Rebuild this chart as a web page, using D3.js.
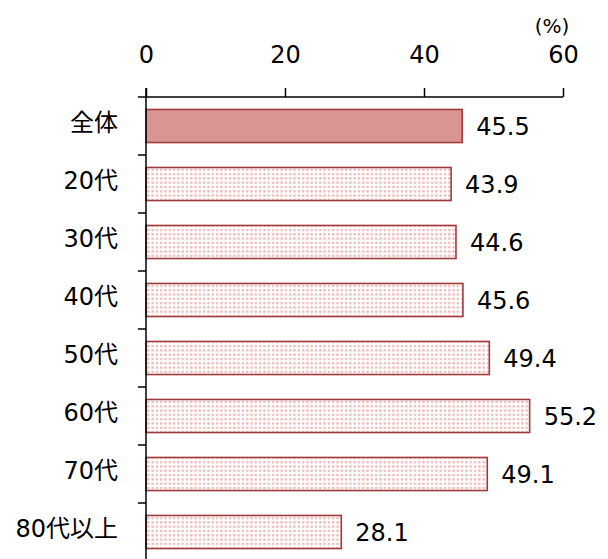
<!DOCTYPE html>
<html>
<head>
<meta charset="utf-8">
<script src="https://cdn.jsdelivr.net/npm/d3@7"></script>
<style>
  html, body { margin: 0; padding: 0; background: #fff; }
  svg text { font-family: "DejaVu Sans", "Noto Sans CJK JP", sans-serif; fill: #000; }
</style>
</head>
<body>
<svg id="chart" width="608" height="559"></svg>
<script>
// Share by age group (%)
const categories = ["全体", "20代", "30代", "40代", "50代", "60代", "70代", "80代以上"];
const values = [45.5, 43.9, 44.6, 45.6, 49.4, 55.2, 49.1, 28.1];
const xTicks = [0, 20, 40, 60];
const unitLabel = "(%)";

const svg = d3.select("#chart");
const plotLeft = 146, plotRight = 563, plotTop = 97, plotBottom = 561;

const x = d3.scaleLinear().domain([0, 60]).range([plotLeft, plotRight]);
const y = d3.scaleBand().domain(categories).range([plotTop, plotBottom])
  .paddingInner(0.43).paddingOuter(0.215);

// dotted fill for the age-group bars
const defs = svg.append("defs");
const pat = defs.append("pattern")
  .attr("id", "dots").attr("patternUnits", "userSpaceOnUse")
  .attr("width", 4.3).attr("height", 4.3);
pat.append("rect").attr("width", 4.3).attr("height", 4.3).attr("fill", "#fff");
pat.append("rect").attr("x", 1).attr("y", 1).attr("width", 2.2).attr("height", 2.2)
  .attr("fill", "#eeb3b3");

// bars
svg.append("g").selectAll("rect")
  .data(categories.map((c, i) => ({ c, v: values[i], i })))
  .join("rect")
  .attr("x", x(0))
  .attr("y", d => y(d.c))
  .attr("width", d => x(d.v) - x(0))
  .attr("height", y.bandwidth())
  .attr("fill", d => d.i === 0 ? "#d99594" : "url(#dots)")
  .attr("stroke", "#a13b3b")
  .attr("stroke-width", 1.6);

// value labels
svg.append("g").selectAll("text")
  .data(categories.map((c, i) => ({ c, v: values[i] })))
  .join("text")
  .attr("x", d => x(d.v) + 14)
  .attr("y", d => y(d.c) + y.bandwidth() / 2)
  .attr("dy", "0.36em")
  .attr("font-size", 24)
  .text(d => d.v.toFixed(1));

// top axis
const xAxis = d3.axisTop(x).tickValues(xTicks).tickSize(9).tickSizeOuter(0).tickPadding(25);
const gx = svg.append("g").attr("transform", `translate(0,${plotTop})`).call(xAxis);
gx.select(".domain").remove();
gx.selectAll(".tick line").attr("stroke", "#000").attr("stroke-width", 1.5);
gx.selectAll(".tick text").attr("font-size", 24).attr("dy", "0em")
  .style("font-family", "'DejaVu Sans', sans-serif");
gx.append("line").attr("x1", plotLeft - 8).attr("x2", plotRight).attr("y1", 0).attr("y2", 0)
  .attr("stroke", "#000").attr("stroke-width", 1.5);

// unit
svg.append("text").attr("x", plotRight - 11).attr("y", 33).attr("text-anchor", "middle")
  .attr("font-size", 20).text(unitLabel);

// left axis: line, ticks between groups, category labels
const gy = svg.append("g");
gy.append("line").attr("x1", plotLeft).attr("x2", plotLeft).attr("y1", plotTop - 9).attr("y2", 559)
  .attr("stroke", "#000").attr("stroke-width", 1.5);
const step = y.step();
gy.selectAll("line.tk")
  .data(categories)
  .join("line").attr("class", "tk")
  .attr("x1", plotLeft - 8).attr("x2", plotLeft)
  .attr("y1", d => y(d) - (step - y.bandwidth()) / 2 + step)
  .attr("y2", d => y(d) - (step - y.bandwidth()) / 2 + step)
  .attr("stroke", "#000").attr("stroke-width", 1.5);
gy.selectAll("text")
  .data(categories)
  .join("text")
  .attr("x", 118)
  .attr("y", d => y(d) + y.bandwidth() / 2 - 4)
  .attr("dy", "0.36em")
  .attr("text-anchor", "end")
  .attr("font-size", 24)
  .text(d => d);
</script>
</body>
</html>
